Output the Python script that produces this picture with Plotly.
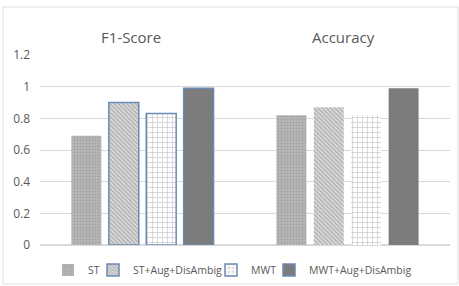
import plotly.graph_objects as go

categories = ["F1-Score", "Accuracy"]
series_names = ["ST", "ST+Aug+DisAmbig", "MWT", "MWT+Aug+DisAmbig"]
st = [0.69, 0.82]
st_aug = [0.90, 0.87]
mwt = [0.83, 0.82]
mwt_aug = [0.99, 0.99]
y_ticks = [0, 0.2, 0.4, 0.6, 0.8, 1, 1.2]
y_tick_labels = ["0", "0.2", "0.4", "0.6", "0.8", "1", "1.2"]

W, H = 459, 286
L, R, T, B = 40, 9, 55, 41
PW = W - L - R

blue = "#6a8bb5"
clear = "rgba(0,0,0,0)"
styles = [
    dict(color="#b4b4b4", pattern=dict(shape=".", fgcolor="#8c8c8c", bgcolor="#bdbdbd", size=3, solidity=0.5),
         line=dict(color=[clear, clear], width=1.5)),
    dict(color="#ffffff", pattern=dict(shape="\\", fgcolor="#808080", bgcolor="#e0e0e0", size=3, solidity=0.5),
         line=dict(color=[blue, clear], width=1.5)),
    dict(color="#ffffff", pattern=dict(shape="+", fgcolor="#8c8c8c", bgcolor="#ffffff", size=5, solidity=0.25),
         line=dict(color=[blue, clear], width=1.5)),
    dict(color="#7c7c7c", line=dict(color=[blue, clear], width=1.5)),
]

legend_ids = ["legend", "legend2", "legend3", "legend4"]
legend_text_x = [88, 133, 251, 309]  # where each legend label starts (px)

fig = go.Figure()
for name, vals, st_, lid in zip(series_names, [st, st_aug, mwt, mwt_aug], styles, legend_ids):
    fig.add_trace(go.Bar(x=categories, y=vals, name=name, marker=st_, legend=lid))

legend_layout = {}
for lid, tx in zip(legend_ids, legend_text_x):
    x0 = tx - 40
    legend_layout[lid] = dict(orientation="h", xref="container", x=x0 / W, xanchor="left",
                              y=(H - 270) / H, yref="container", yanchor="middle",
                              font=dict(size=10.5, color="#595959"), itemwidth=30,
                              bgcolor="rgba(0,0,0,0)")

title_shift = [-12, -4]
annotations = [
    dict(x=c, y=1, xref="x", yref="paper", yanchor="middle", yshift=18,
         text=c, showarrow=False, xshift=title_shift[i],
         font=dict(size=15, color="#595959"))
    for i, c in enumerate(categories)
]

fig.update_layout(
    width=W, height=H,
    margin=dict(l=L, r=R, t=T, b=B, autoexpand=False),
    paper_bgcolor="white", plot_bgcolor="white",
    barmode="group", bargap=0.27, bargroupgap=0.2,
    font=dict(family="Open Sans, Liberation Sans, sans-serif", color="#595959"),
    showlegend=True,
    xaxis=dict(showgrid=False, showline=False, ticks="", showticklabels=False, automargin=False),
    yaxis=dict(range=[0, 1.2], tickvals=y_ticks, ticktext=y_tick_labels, automargin=False,
               showgrid=True, gridcolor="#d9d9d9", gridwidth=1, zeroline=True,
               zerolinecolor="#d9d9d9", showline=False, ticks="",
               tickfont=dict(size=12, color="#595959"), ticklabelstandoff=9),
    annotations=annotations,
    shapes=[dict(type="rect", xref="paper", yref="paper",
                 x0=(3 - L) / PW, x1=(458 - L) / PW,
                 y0=(245 - 284) / 190, y1=(245 - 7) / 190,
                 line=dict(color="#e0e0e0", width=1), layer="below")],
    **legend_layout,
)

fig.write_html("out.html", config={"displayModeBar": False},
               post_script="document.body.style.margin='0';")
